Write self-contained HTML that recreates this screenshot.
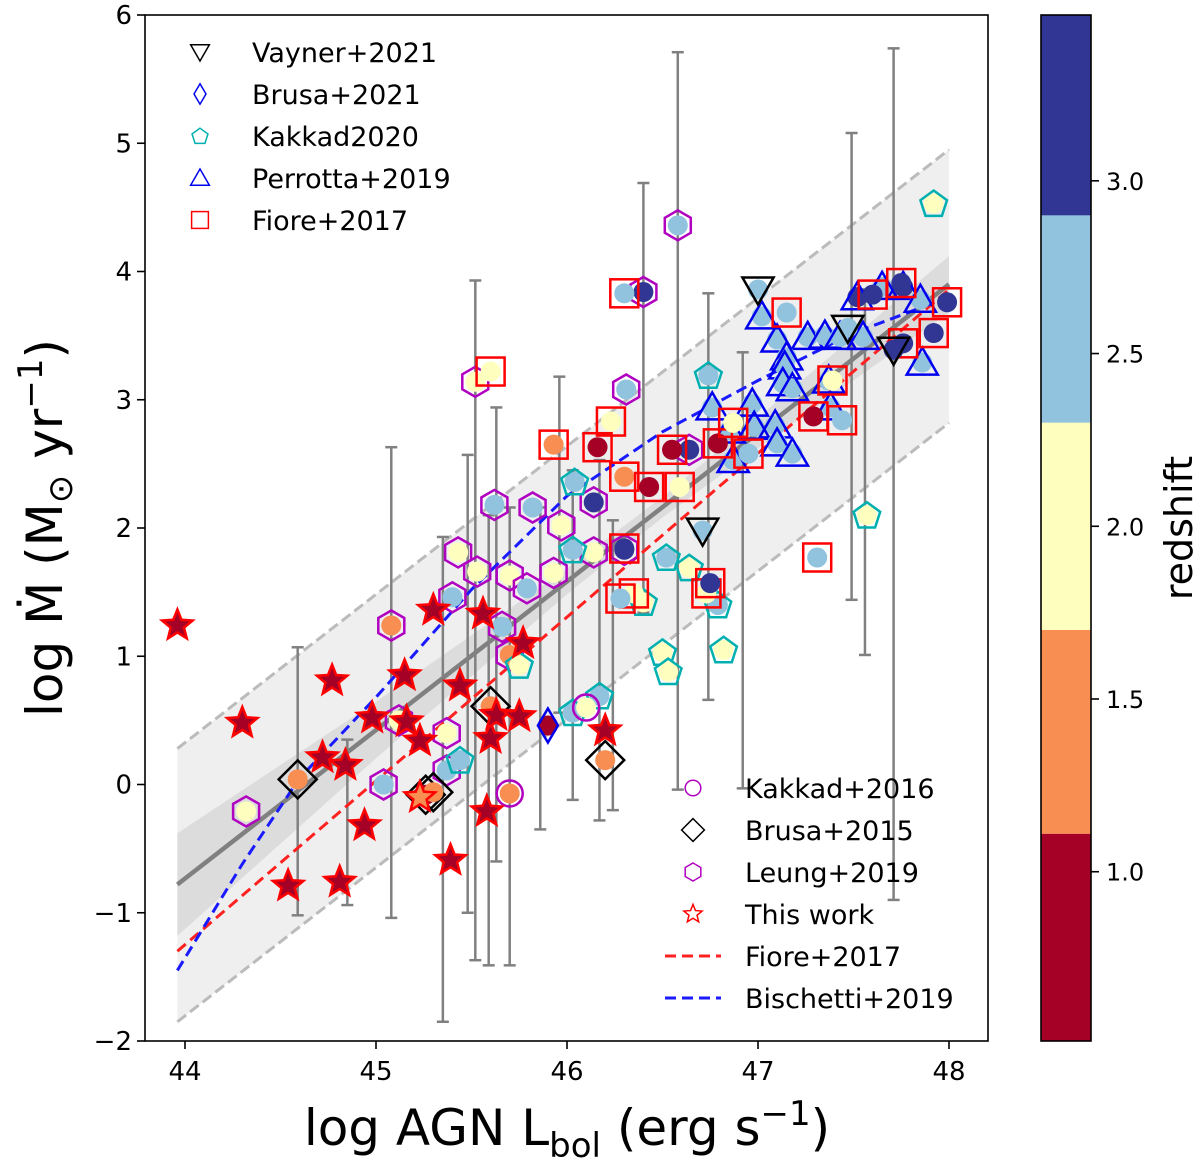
<!DOCTYPE html>
<html><head><meta charset="utf-8"><style>
html,body{margin:0;padding:0;background:#fff;}
svg{display:block;font-family:"DejaVu Sans","Liberation Sans",sans-serif;}
</style></head><body>
<svg id="chart" width="1200" height="1164" viewBox="0 0 1200 1164" xmlns="http://www.w3.org/2000/svg"></svg>
<script>
// ---- data ----
const xTicks=[44,45,46,47,48];
const yTicks=[-2,-1,0,1,2,3,4,5,6];
const cbTicks=[1.0,1.5,2.0,2.5,3.0];
const cbBins=[0.51,1.11,1.70,2.30,2.90,3.48];
const cbColors=["#a50026","#f98e52","#fefebe","#91c3de","#313695"];

const starX=[43.96,44.30,44.54,44.72,44.77,44.81,44.84,44.94,44.98,45.15,45.16,45.23,45.23,45.30,45.39,45.44,45.56,45.58,45.60,45.63,45.77,45.75,46.20];
const starY=[1.24,0.48,-0.79,0.21,0.81,-0.76,0.15,-0.32,0.52,0.85,0.49,-0.10,0.34,1.36,-0.59,0.77,1.33,-0.21,0.36,0.54,1.10,0.53,0.42];
const starZ=[0.8,0.8,0.8,0.8,0.8,0.8,0.8,0.8,0.8,0.8,0.8,1.4,0.8,0.8,0.8,0.8,0.8,0.8,0.8,0.8,0.8,0.8,0.8];

const errX=[44.59,45.08,44.85,45.35,45.48,45.52,45.59,45.63,45.70,45.86,45.96,46.03,46.17,46.24,46.40,46.58,46.74,46.92,47.49,47.56,47.71];
const errLo=[-1.02,-1.04,-0.94,-1.85,-1.0,-1.37,-1.41,-0.6,-1.41,-0.35,0.56,-0.12,-0.28,-0.2,1.34,-0.04,0.66,-0.03,1.44,1.01,-0.9];
const errHi=[1.07,2.63,0.35,1.93,2.57,3.93,2.1,2.94,2.16,2.16,3.18,2.45,2.53,2.06,4.69,5.71,3.83,3.37,5.08,3.86,5.74];

const perX=[47.02,47.10,47.26,47.35,47.43,47.55,47.15,47.14,47.13,47.18,46.76,46.97,46.85,46.98,47.09,47.10,47.18,46.87,47.37,47.38,47.52,47.65,47.76,47.85,47.86];
const perY=[3.65,3.47,3.49,3.50,3.49,3.49,3.33,3.26,3.13,3.09,2.94,2.97,2.76,2.79,2.80,2.66,2.58,2.53,3.15,2.94,3.80,3.88,3.88,3.78,3.29];
const perZ=[2.5,2.5,2.5,2.5,2.5,2.5,2.5,2.5,2.5,2.5,2.5,2.5,2.5,2.5,2.5,2.5,2.5,2.5,2.5,2.5,3.2,2.5,3.2,2.5,2.5];

const fioX=[46.30,45.60,45.93,46.16,46.23,46.30,46.43,46.55,46.59,46.30,46.35,46.28,46.73,46.75,46.79,46.87,46.95,47.15,47.29,47.39,47.44,47.60,47.75,47.99,47.92,47.76,47.31];
const fioY=[3.83,3.22,2.65,2.63,2.83,2.40,2.32,2.61,2.32,1.84,1.49,1.45,1.49,1.57,2.66,2.82,2.58,3.68,2.87,3.15,2.84,3.82,3.91,3.76,3.52,3.44,1.77];
const fioZ=[2.5,2.0,1.4,0.8,2.0,1.4,0.8,0.8,2.0,3.2,2.0,2.5,2.0,3.2,0.8,2.0,2.5,2.5,0.8,2.0,2.5,3.2,3.2,3.2,3.2,3.2,2.5];

const leuX=[46.58,46.40,46.64,45.52,46.31,45.62,45.82,45.97,46.14,45.43,45.53,45.70,45.79,45.93,46.14,46.30,45.40,45.08,45.66,45.70,44.32,45.04,45.37,45.37,45.12];
const leuY=[4.36,3.84,2.61,3.14,3.08,2.18,2.16,2.02,2.20,1.81,1.66,1.63,1.53,1.65,1.81,1.83,1.46,1.24,1.23,1.01,-0.21,0.00,0.40,0.11,0.50];
const leuZ=[2.5,3.2,3.2,2.0,2.5,2.5,2.5,2.0,3.2,2.0,2.0,2.0,2.5,2.0,2.0,3.2,2.5,1.4,2.5,1.4,2.0,2.5,2.0,2.5,2.0];

const kk20X=[47.92,47.57,46.74,46.04,46.03,46.52,46.64,46.40,46.79,46.82,46.50,46.53,46.17,46.03,45.44,45.75];
const kk20Y=[4.53,2.10,3.19,2.36,1.83,1.77,1.69,1.42,1.40,1.05,1.03,0.88,0.69,0.56,0.19,0.93];
const kk20Z=[2.0,2.0,2.5,2.5,2.5,2.5,2.0,2.0,2.5,2.0,2.0,2.0,2.5,2.5,2.5,2.0];

const kk16X=[46.10,45.70];
const kk16Y=[0.60,-0.07];
const kk16Z=[2.0,1.4];

const br15X=[44.59,45.26,45.30,45.60,46.20];
const br15Y=[0.04,-0.08,-0.06,0.61,0.19];
const br15Z=[1.4,0.8,1.4,1.4,1.4];

const br21X=[45.90];
const br21Y=[0.46];
const br21Z=[0.8];

const vayX=[47.00,46.71,47.47,47.71];
const vayY=[3.86,1.98,3.56,3.39];
const vayZ=[2.5,2.5,2.5,3.2];

const fitX=[43.96,48.0];
const fitY=[-0.78,3.9];
const fioreLineX=[43.96,48.0];
const fioreLineY=[-1.30,3.86];
const bisX=[43.96,44.3,44.6,45.0,45.5,46.0,46.5,47.0,47.5,48.0];
const bisY=[-1.45,-0.62,0.05,0.68,1.52,2.25,2.75,3.15,3.52,3.80];
const bandX=[43.96,48.0];
const bandHi=[0.28,4.95];
const bandLo=[-1.85,2.82];
const ciX=[43.96,45.0,46.0,46.5,47.0,48.0];
const ciW=[0.40,0.22,0.10,0.08,0.12,0.22];

(function(){
const NS="http://www.w3.org/2000/svg";
const svg=document.getElementById('chart');
const L=145,R=988,T=15,B=1041;
function sx(v){return 185+(v-44)*191;}
function sy(v){return 15+(6-v)*128.25;}
function col(z){for(let i=0;i<cbColors.length;i++){if(z<cbBins[i+1])return cbColors[i];}return cbColors[cbColors.length-1];}
function mk(tag,attrs,parent){const e=document.createElementNS(NS,tag);for(const k in attrs)e.setAttribute(k,attrs[k]);(parent||svg).appendChild(e);return e;}
function txt(s,x,y,size,anchor,parent){const t=mk('text',{x:x,y:y,'font-size':size,'text-anchor':anchor||'middle',fill:'#000'},parent);t.textContent=s;return t;}

const defs=mk('defs',{});
const cp=mk('clipPath',{id:'pc'},defs);
mk('rect',{x:L,y:T,width:R-L,height:B-T},cp);
const plot=mk('g',{'clip-path':'url(#pc)'});



let bp='M'+sx(bandX[0])+','+sy(bandHi[0])+' L'+sx(bandX[1])+','+sy(bandHi[1])+' L'+sx(bandX[1])+','+sy(bandLo[1])+' L'+sx(bandX[0])+','+sy(bandLo[0])+'Z';
const band=mk('path',{d:bp,fill:'#efefef'},plot);


function fitAt(x){return fitY[0]+(fitY[1]-fitY[0])*(x-fitX[0])/(fitX[1]-fitX[0]);}
let ciTop='',ciBot='';
for(let i=0;i<ciX.length;i++){ciTop+=(i?'L':'M')+sx(ciX[i])+','+sy(fitAt(ciX[i])+ciW[i])+' ';}
for(let i=ciX.length-1;i>=0;i--){ciBot+='L'+sx(ciX[i])+','+sy(fitAt(ciX[i])-ciW[i])+' ';}
const ci=mk('path',{d:ciTop+ciBot+'Z',fill:'#dcdcdc'},plot);


[bandHi,bandLo].forEach((arr,k)=>{
  const l=mk('line',{x1:sx(bandX[0]),y1:sy(arr[0]),x2:sx(bandX[1]),y2:sy(arr[1]),stroke:'#bbbbbb','stroke-width':3,'stroke-dasharray':'11,5'},plot);
  
  
});

for(let i=0;i<errX.length;i++){
  const g=mk('g',{stroke:'#808080','stroke-width':2.5},plot);
  
  
  const x=sx(errX[i]);
  mk('line',{x1:x,y1:sy(errLo[i]),x2:x,y2:sy(errHi[i])},g);
  mk('line',{x1:x-6,y1:sy(errLo[i]),x2:x+6,y2:sy(errLo[i])},g);
  mk('line',{x1:x-6,y1:sy(errHi[i]),x2:x+6,y2:sy(errHi[i])},g);
}

function poly(xs,ys){return xs.map((v,i)=>sx(v)+','+sy(ys[i])).join(' ');}
const fl=mk('polyline',{points:poly(fitX,fitY),fill:'none',stroke:'#808080','stroke-width':4.5},plot);


const rl=mk('polyline',{points:poly(fioreLineX,fioreLineY),fill:'none',stroke:'#ff2020','stroke-width':3,'stroke-dasharray':'11,6'},plot);


const bl=mk('polyline',{points:poly(bisX,bisY),fill:'none',stroke:'#1a1aff','stroke-width':3,'stroke-dasharray':'11,6'},plot);



function polyPts(px,py,r,n,rot){let p=[];for(let i=0;i<n;i++){const a=rot+i*2*Math.PI/n;p.push((px+r*Math.cos(a)).toFixed(1)+','+(py+r*Math.sin(a)).toFixed(1));}return p.join(' ');}
function starPts(px,py,r1,r2){let p=[];for(let i=0;i<10;i++){const a=-Math.PI/2+i*Math.PI/5;const r=i%2?r2:r1;p.push((px+r*Math.cos(a)).toFixed(1)+','+(py+r*Math.sin(a)).toFixed(1));}return p.join(' ');}
function marker(type,px,py,parent,fill){
  fill=fill||'none';
  if(type==='square')return mk('rect',{x:px-14,y:py-14,width:28,height:28,fill:fill,stroke:'#ff0000','stroke-width':2.5},parent);
  if(type==='tri')return mk('polygon',{points:polyPts(px,py+3,18,3,-Math.PI/2),fill:fill,stroke:'#0000ee','stroke-width':2.5},parent);
  if(type==='tridown')return mk('polygon',{points:polyPts(px,py-3,18,3,Math.PI/2),fill:fill,stroke:'#000','stroke-width':2.5},parent);
  if(type==='hex')return mk('polygon',{points:polyPts(px,py,15,6,-Math.PI/2),fill:fill,stroke:'#b000c0','stroke-width':2.5},parent);
  if(type==='pent')return mk('polygon',{points:polyPts(px,py+1,14,5,-Math.PI/2),fill:fill,stroke:'#00b0b0','stroke-width':2.5},parent);
  if(type==='circ')return mk('circle',{cx:px,cy:py,r:13,fill:fill,stroke:'#b000c0','stroke-width':2.5},parent);
  if(type==='diam')return mk('polygon',{points:`${px},${py-19} ${px+19},${py} ${px},${py+19} ${px-19},${py}`,fill:fill,stroke:'#000','stroke-width':2.5},parent);
  if(type==='thindiam')return mk('polygon',{points:`${px},${py-17} ${px+10},${py} ${px},${py+17} ${px-10},${py}`,fill:fill,stroke:'#0000ee','stroke-width':2.5},parent);
  if(type==='star')return mk('polygon',{points:starPts(px,py,16,7),fill:fill,stroke:'#ff0000','stroke-width':2.5},parent);
}
function series(name,type,xs,ys,zs){
  const g=mk('g',{},plot);
  
  
  for(let i=0;i<xs.length;i++){
    const px=sx(xs[i]),py=sy(ys[i]);
    if(type==='star'){
      const s=marker('star',px,py,g,col(zs[i]));
      
      
      continue;
    }
    const c=mk('circle',{cx:px,cy:py,r:10,fill:col(zs[i])},g);
    
    
    const m=marker(type,px,py,g);
    
    
  }
}
series('leung2019','hex',leuX,leuY,leuZ);
series('kakkad2020','pent',kk20X,kk20Y,kk20Z);
series('kakkad2016','circ',kk16X,kk16Y,kk16Z);
series('brusa2015','diam',br15X,br15Y,br15Z);
series('brusa2021','thindiam',br21X,br21Y,br21Z);
series('this-work','star',starX,starY,starZ);
series('perrotta2019','tri',perX,perY,perZ);
series('fiore2017','square',fioX,fioY,fioZ);
series('vayner2021','tridown',vayX,vayY,vayZ);

const fr=mk('rect',{x:L,y:T,width:R-L,height:B-T,fill:'none',stroke:'#000','stroke-width':1.6});


xTicks.forEach(v=>{
  const g=mk('g',{});
  
  
  mk('line',{x1:sx(v),y1:B,x2:sx(v),y2:B+8,stroke:'#000','stroke-width':1.6},g);
  txt(String(v),sx(v),B+39,26,'middle',g);
});
yTicks.forEach(v=>{
  const g=mk('g',{});
  
  
  mk('line',{x1:L-8,y1:sy(v),x2:L,y2:sy(v),stroke:'#000','stroke-width':1.6},g);
  txt(v<0?'\u2212'+Math.abs(v):String(v),L-13,sy(v)+9,26,'end',g);
});
const xt=mk('text',{x:567,y:1145,'font-size':50,'text-anchor':'middle'});


xt.innerHTML='log AGN L<tspan font-size="34" dy="12">bol</tspan><tspan dy="-12"> (erg s</tspan><tspan font-size="34" dy="-20">\u22121</tspan><tspan dy="20">)</tspan>';
const yt=mk('text',{x:0,y:0,'font-size':50,'text-anchor':'middle',transform:'translate(62,528) rotate(-90)'});


yt.innerHTML='log M\u0307 (M<tspan font-size="34" dy="10">\u2299</tspan><tspan dy="-10"> yr</tspan><tspan font-size="34" dy="-20">\u22121</tspan><tspan dy="20">)</tspan>';

function legend(name,items,mx,tx,y0,dy){
  const g=mk('g',{});
  
  
  items.forEach((it,i)=>{
    const y=y0+i*dy;
    const e=mk('g',{},g);
    
    
    if(it[0]==='redline'||it[0]==='blueline'){
      mk('line',{x1:mx-28,y1:y,x2:mx+28,y2:y,stroke:it[0]==='redline'?'#ff2020':'#1a1aff','stroke-width':3,'stroke-dasharray':'11,6'},e);
    } else {
      const m=marker(it[0],mx,y,e,'none');
      m.setAttribute('transform',`translate(${mx},${y}) scale(0.6) translate(${-mx},${-y})`);
    }
    txt(it[1],tx,y+10,27,'start',e);
  });
}
legend('legend-top-left',[['tridown','Vayner+2021'],['thindiam','Brusa+2021'],['pent','Kakkad2020'],['tri','Perrotta+2019'],['square','Fiore+2017']],200,252,52,42);
legend('legend-bottom-right',[['circ','Kakkad+2016'],['diam','Brusa+2015'],['hex','Leung+2019'],['star','This work'],['redline','Fiore+2017'],['blueline','Bischetti+2019']],693,745,788,42);

const cb=mk('g',{});


const cbTop=15,cbBot=1041,cbL=1041,cbW=50;
const zMin=cbBins[0],zMax=cbBins[cbBins.length-1];
function cbY(z){return cbBot-(z-zMin)/(zMax-zMin)*(cbBot-cbTop);}
for(let i=0;i<cbColors.length;i++){
  const r=mk('rect',{x:cbL,y:cbY(cbBins[i+1]),width:cbW,height:cbY(cbBins[i])-cbY(cbBins[i+1]),fill:cbColors[i]},cb);
  
  
}
mk('rect',{x:cbL,y:cbTop,width:cbW,height:cbBot-cbTop,fill:'none',stroke:'#000','stroke-width':1.6},cb);
cbTicks.forEach(v=>{
  mk('line',{x1:cbL+cbW,y1:cbY(v),x2:cbL+cbW+8,y2:cbY(v),stroke:'#000','stroke-width':1.6},cb);
  txt(v.toFixed(1),cbL+cbW+15,cbY(v)+9,24,'start',cb);
});
const ct=mk('text',{x:0,y:0,'font-size':38,'text-anchor':'middle',transform:'translate(1192,528) rotate(-90)'});


ct.textContent='redshift';
})();
</script>
</body></html>
